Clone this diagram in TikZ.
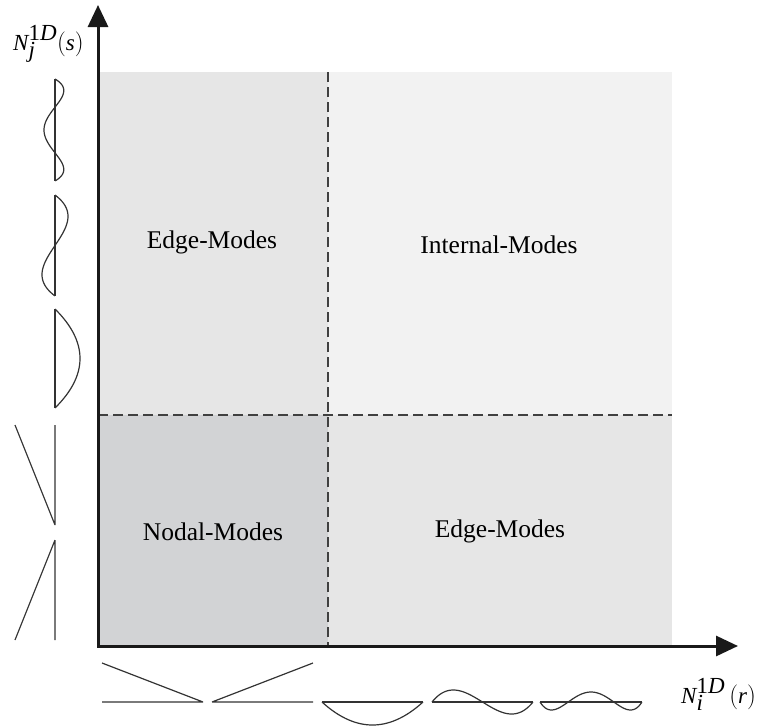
\documentclass[tikz,border=0pt]{standalone}
\usepackage{fontspec}
\setmainfont{Liberation Serif}
\usetikzlibrary{arrows.meta}
\definecolor{nodalgray}{HTML}{D2D3D5}
\definecolor{edgegray}{HTML}{E6E6E6}
\definecolor{internalgray}{HTML}{F2F2F2}
\begin{document}
\begin{tikzpicture}[x=1pt, y=-1pt,
	modelabel/.style={font=\fontsize{25.5}{29}\selectfont, anchor=base, inner sep=0pt},
	axislabel/.style={font=\fontsize{23}{27}\selectfont, anchor=base west, inner sep=0pt},
	shapefn/.style={line width=1.2pt, black!80},
	divider/.style={line width=1.2pt, black!75, dash pattern=on 10pt off 5pt},
	axisarrows/.style={line width=3pt, black!90,
		{Triangle[length=22pt,width=20pt]}-{Triangle[length=22pt,width=20pt]}}]
	\useasboundingbox (0,0) rectangle (758,726);
	%regions
	\fill[internalgray] (328,72) rectangle (672,415);
	\fill[edgegray] (98,72) rectangle (328,415);
	\fill[edgegray] (328,415) rectangle (672,646);
	\fill[nodalgray] (98,415) rectangle (328,646);
	\draw[divider] (98,415) -- (672,415);
	\draw[divider] (328,72) -- (328,646);
	%axis
	\draw[axisarrows] (98,5) -- coordinate (y axis mid) (98,646) -- coordinate (x axis mid) (738,646);
	%labels
	\node[axislabel] (s label) at (13,50) {$\textit{N}_{\textit{j}}^{\textrm{1}\textit{D}}(\textit{s})$};
	\node[axislabel] (r label) at (681,703) {$\textit{N}_{\textit{i}}^{\textrm{1}\textit{D}}\,(\textit{r})$};
	\node[modelabel] (edge upper) at (212,248) {Edge-Modes};
	\node[modelabel] (internal) at (499,253) {Internal-Modes};
	\node[modelabel] (nodal) at (213,540) {Nodal-Modes};
	\node[modelabel] (edge lower) at (500,537) {Edge-Modes};
	%shape functions in r
	\draw[shapefn] (102,702) -- (203,702) (102,663) -- (203,702);
	\draw[shapefn] (212,702) -- (313,702) (212,702) -- (313,663);
	\draw[shapefn] (322,702) -- (423,702);
	\draw[shapefn] plot[domain=0:1, samples=40, smooth] ({322+101*\x}, {702+92*\x*(1-\x)});
	\draw[shapefn] (432,702) -- (533,702);
	\draw[shapefn] plot[domain=0:1, samples=50, smooth]
		({432+101*\x}, {702+31.2*(2*\x-1)*(1-(2*\x-1)*(2*\x-1))});
	\draw[shapefn] (540,702) -- (642,702);
	\draw[shapefn] plot[domain=0:1, samples=60, smooth]
		({540+102*\x}, {702-10*(1-(2*\x-1)*(2*\x-1))*(1-5*(2*\x-1)*(2*\x-1))});
	%shape functions in s
	\draw[shapefn] (55,79) -- (55,181);
	\draw[shapefn] plot[domain=0:1, samples=60, smooth]
		({55-11*(1-(2*\x-1)*(2*\x-1))*(1-5*(2*\x-1)*(2*\x-1))}, {79+102*\x});
	\draw[shapefn] (55,195) -- (55,296);
	\draw[shapefn] plot[domain=0:1, samples=50, smooth]
		({55-33.8*(2*\x-1)*(1-(2*\x-1)*(2*\x-1))}, {195+101*\x});
	\draw[shapefn] (55,309) -- (55,408);
	\draw[shapefn] plot[domain=0:1, samples=40, smooth] ({55+100*\x*(1-\x)}, {309+99*\x});
	\draw[shapefn] (55,425) -- (55,525) (15,425) -- (55,525);
	\draw[shapefn] (55,540) -- (55,640) (55,540) -- (15,640);
\end{tikzpicture}
\end{document}
